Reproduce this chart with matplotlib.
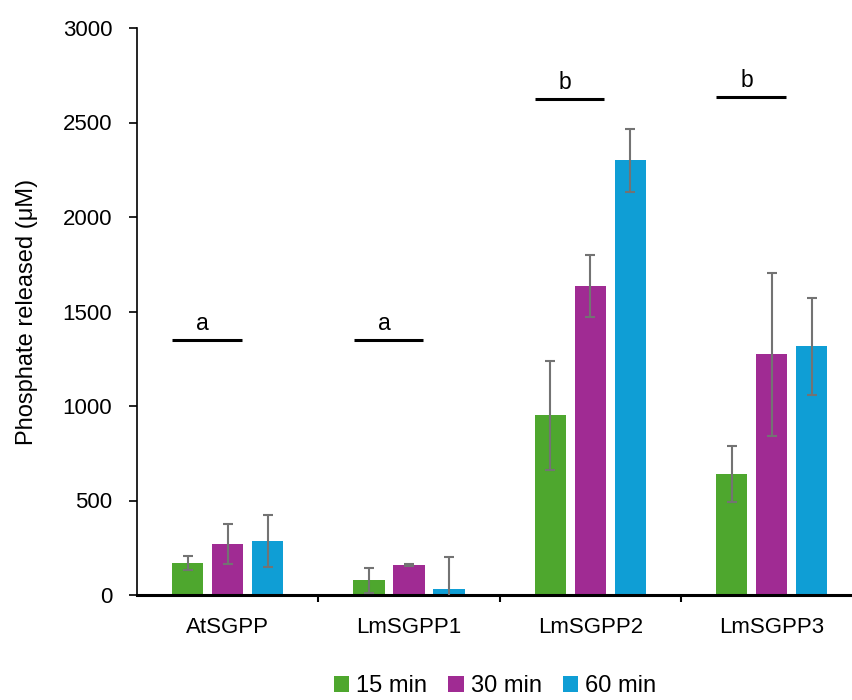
import numpy as np
import matplotlib
matplotlib.use("Agg")
import matplotlib.pyplot as plt

plt.rcParams['font.family'] = ['Liberation Sans', 'DejaVu Sans']

# data
groups = ["AtSGPP", "LmSGPP1", "LmSGPP2", "LmSGPP3"]
series = ["15 min", "30 min", "60 min"]
vals_15 = [168, 78, 950, 640]
vals_30 = [270, 160, 1635, 1273]
vals_60 = [285, 30, 2300, 1315]
err_15 = [36, 65, 287, 146]
err_30 = [107, 5, 163, 433]
err_60 = [138, 172, 168, 258]
colors = ["#4EA72E", "#A02B93", "#0F9ED5"]

# significance letters
sig_letters = ["a", "a", "b", "b"]
sig_level = [1350, 1350, 2625, 2635]

fig = plt.figure(figsize=(8.52, 7.0), dpi=100)
ax = fig.add_axes([137 / 852, 105 / 700, 725.3 / 852, 567 / 700])

x = np.arange(len(groups))
step = 0.2206
width = 0.174
vals = [vals_15, vals_30, vals_60]
errs = [err_15, err_30, err_60]
for i in range(3):
    pos = x + (i - 1) * step
    ax.bar(pos, vals[i], width=width, color=colors[i], label=series[i], zorder=2)
    ax.errorbar(pos, vals[i], yerr=errs[i], fmt="none", ecolor="#737373",
                elinewidth=1.5, capsize=3.6, capthick=1.5, zorder=3)

# significance bars and letters
for g in range(len(groups)):
    x0 = g - 0.305
    x1 = g + 0.078
    ax.plot([x0, x1], [sig_level[g], sig_level[g]], color="black", lw=2.2,
            solid_capstyle="butt", zorder=4)
    ax.text((x0 + x1) / 2 - 0.024, sig_level[g] + 52, sig_letters[g],
            ha="center", va="baseline", fontsize=16.5)

ax.set_xlim(-0.5, 3.5)
ax.set_ylim(0, 3000)
ax.set_yticks(np.arange(0, 3001, 500))
ax.set_xticks(x)
ax.set_xticklabels(groups, fontsize=16)
ax.set_xticks(np.arange(0.5, 3.5, 1), minor=True)
ax.tick_params(axis="x", which="major", length=0, pad=16)
ax.tick_params(axis="x", which="minor", length=5, width=1.5, direction="out")
ax.tick_params(axis="y", length=5.8, width=1.2, labelsize=16, pad=12)
ax.set_ylabel("Phosphate released (\u03bcM)", fontsize=17, labelpad=18)

for s in ["top", "right"]:
    ax.spines[s].set_visible(False)
ax.spines["bottom"].set_linewidth(2.2)
ax.spines["left"].set_linewidth(1.2)

ax.legend(loc="center", bbox_to_anchor=(495 / 852, 14 / 700),
          bbox_transform=fig.transFigure, ncol=3, frameon=False,
          fontsize=17, handlelength=0.65, handleheight=0.65,
          handletextpad=0.3, columnspacing=0.9, borderpad=0)

fig.savefig("out.png", dpi=100)
